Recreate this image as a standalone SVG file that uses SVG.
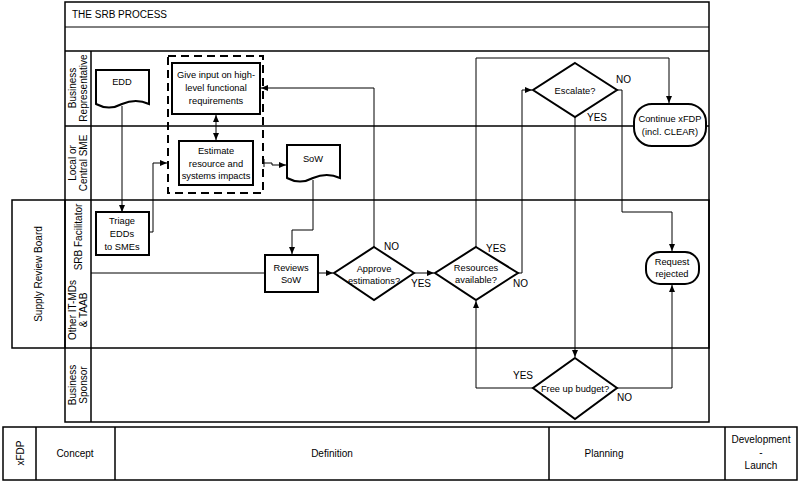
<svg xmlns="http://www.w3.org/2000/svg" width="801" height="482" viewBox="0 0 801 482">
<style>
text{font-family:"Liberation Sans",Arial,sans-serif;font-size:10px;fill:#000}
.n text{font-size:9.3px}
.c{text-anchor:middle}
.frame{fill:none;stroke:#000;stroke-width:1.5}
.thin{fill:none;stroke:#000;stroke-width:1}
.node{fill:#fff;stroke:#000;stroke-width:2}
.conn{fill:none;stroke:#000;stroke-width:1}
.arr{marker-end:url(#ah)}
</style>
<defs>
<marker id="ah" markerWidth="8" markerHeight="8" refX="7" refY="4" orient="auto" markerUnits="userSpaceOnUse"><path d="M0,1 L7,4 L0,7 z" fill="#000"/></marker>
<marker id="as" markerWidth="8" markerHeight="8" refX="0" refY="4" orient="auto" markerUnits="userSpaceOnUse"><path d="M7,1 L0,4 L7,7 z" fill="#000"/></marker>
</defs>
<rect width="801" height="482" fill="#fff"/>
<g id="frame">
<rect x="65" y="2" width="644" height="420" class="frame"/>
<line x1="65" y1="27" x2="709" y2="27" class="thin"/>
<line x1="65" y1="51" x2="709" y2="51" class="frame"/>
<line x1="91" y1="51" x2="91" y2="422" class="frame"/>
<line x1="65" y1="126" x2="709" y2="126" class="frame"/>
<rect x="12" y="200" width="697" height="148" class="frame"/>
<line x1="65" y1="200" x2="65" y2="348" class="frame"/>
<text x="72" y="18">THE SRB PROCESS</text>
<text class="c" transform="translate(78,88) rotate(-90)"><tspan x="0" y="-2">Business</tspan><tspan x="0" y="9">Representative</tspan></text>
<text class="c" transform="translate(78,163) rotate(-90)"><tspan x="0" y="-2">Local or</tspan><tspan x="0" y="9">Central SME</tspan></text>
<text class="c" transform="translate(78,237) rotate(-90)"><tspan x="0" y="4">SRB Facilitator</tspan></text>
<text class="c" transform="translate(78,310) rotate(-90)"><tspan x="0" y="-2">Other IT-MDs</tspan><tspan x="0" y="9">&amp; TAAB</tspan></text>
<text class="c" transform="translate(78,385) rotate(-90)"><tspan x="0" y="-2">Business</tspan><tspan x="0" y="9">Sponsor</tspan></text>
<text class="c" transform="translate(38,274) rotate(-90)"><tspan x="0" y="4">Supply Review Board</tspan></text>
</g>
<g id="phases">
<rect x="3" y="427" width="794" height="53" class="frame"/>
<line x1="36" y1="427" x2="36" y2="480" class="frame"/>
<line x1="115" y1="427" x2="115" y2="480" class="frame"/>
<line x1="549" y1="427" x2="549" y2="480" class="frame"/>
<line x1="725" y1="427" x2="725" y2="480" class="frame"/>
<text class="c" transform="translate(20,453) rotate(-90)" y="4">xFDP</text>
<text class="c" x="75" y="457">Concept</text>
<text class="c" x="332" y="457">Definition</text>
<text class="c" x="604" y="457">Planning</text>
<text class="c" x="761" y="443">Development</text>
<text class="c" x="761" y="456">-</text>
<text class="c" x="761" y="469">Launch</text>
</g>
<g id="connectors">
<line x1="122" y1="106" x2="122" y2="212" class="conn arr"/>
<polyline points="149,232 153,232 153,163 167,163" class="conn arr"/>
<line x1="216" y1="115" x2="216" y2="140" class="conn arr" marker-start="url(#as)"/>
<path d="M264,159 V167 M264,163 H272 V165 H286" class="conn arr"/>
<polyline points="313,180 313,230 292,230 292,254" class="conn arr"/>
<line x1="91" y1="273" x2="265" y2="273" class="conn"/>
<line x1="318" y1="273" x2="333" y2="273" class="conn arr"/>
<polyline points="374,247 374,88 261,88" class="conn arr"/>
<line x1="414" y1="273" x2="434" y2="273" class="conn arr"/>
<polyline points="476,247 476,58 669,58 669,103" class="conn arr"/>
<polyline points="518,273 522,273 522,90 532,90" class="conn arr"/>
<polyline points="617,90 622,90 622,212 672,212 672,251" class="conn arr"/>
<line x1="575" y1="117" x2="575" y2="357" class="conn arr"/>
<polyline points="533,388 476,388 476,301" class="conn arr"/>
<polyline points="617,388 672,388 672,285" class="conn arr"/>
<text x="384" y="250">NO</text>
<text x="411" y="287">YES</text>
<text x="486" y="252">YES</text>
<text x="513" y="287">NO</text>
<text x="616" y="83">NO</text>
<text x="587" y="121">YES</text>
<text x="513" y="379">YES</text>
<text x="617" y="401">NO</text>
</g>
<g class="n">
<g id="n-edd"><path d="M96,70 H149 V104 Q136,98 122,104 Q109,111 96,104 Z" class="node"/><text class="c" x="122" y="85">EDD</text></g>
<g id="n-dashed"><rect x="168" y="56" width="95" height="137" fill="none" stroke="#000" stroke-width="2" stroke-dasharray="8,5"/></g>
<g id="n-give"><rect x="172" y="63" width="88" height="51" class="node"/><text class="c" x="216" y="78">Give input on high-</text><text class="c" x="216" y="91">level functional</text><text class="c" x="216" y="104">requirements</text></g>
<g id="n-estimate"><rect x="179" y="141" width="74" height="44" class="node"/><text class="c" x="216" y="154">Estimate</text><text class="c" x="216" y="167">resource and</text><text class="c" x="216" y="179">systems impacts</text></g>
<g id="n-sow"><path d="M287,145 H340 V178 Q327,172 313,178 Q300,185 287,178 Z" class="node"/><text class="c" x="313" y="162">SoW</text></g>
<g id="n-triage"><rect x="96" y="212" width="53" height="43" class="node"/><text class="c" x="122" y="224">Triage</text><text class="c" x="122" y="237">EDDs</text><text class="c" x="122" y="250">to SMEs</text></g>
<g id="n-reviews"><rect x="265" y="255" width="53" height="37" class="node"/><text class="c" x="291" y="271">Reviews</text><text class="c" x="291" y="283">SoW</text></g>
<g id="n-approve"><path d="M374,247 L414,273 L374,300 L334,273 Z" class="node"/><text class="c" x="374" y="272">Approve</text><text class="c" x="374" y="284">estimations?</text></g>
<g id="n-resources"><path d="M476,247 L518,273 L476,300 L435,273 Z" class="node"/><text class="c" x="476" y="271">Resources</text><text class="c" x="476" y="283">available?</text></g>
<g id="n-escalate"><path d="M575,63 L617,90 L575,117 L533,90 Z" class="node"/><text class="c" x="575" y="94">Escalate?</text></g>
<g id="n-continue"><rect x="634" y="104" width="72" height="42" rx="18" class="node"/><text class="c" x="670" y="122">Continue xFDP</text><text class="c" x="670" y="135">(incl. CLEAR)</text></g>
<g id="n-rejected"><rect x="646" y="252" width="53" height="32" rx="14" class="node"/><text class="c" x="672" y="265">Request</text><text class="c" x="672" y="277">rejected</text></g>
<g id="n-budget"><path d="M575,358 L617,388 L575,419 L533,388 Z" class="node"/><text class="c" x="575" y="392">Free up budget?</text></g>
</g>
</svg>
